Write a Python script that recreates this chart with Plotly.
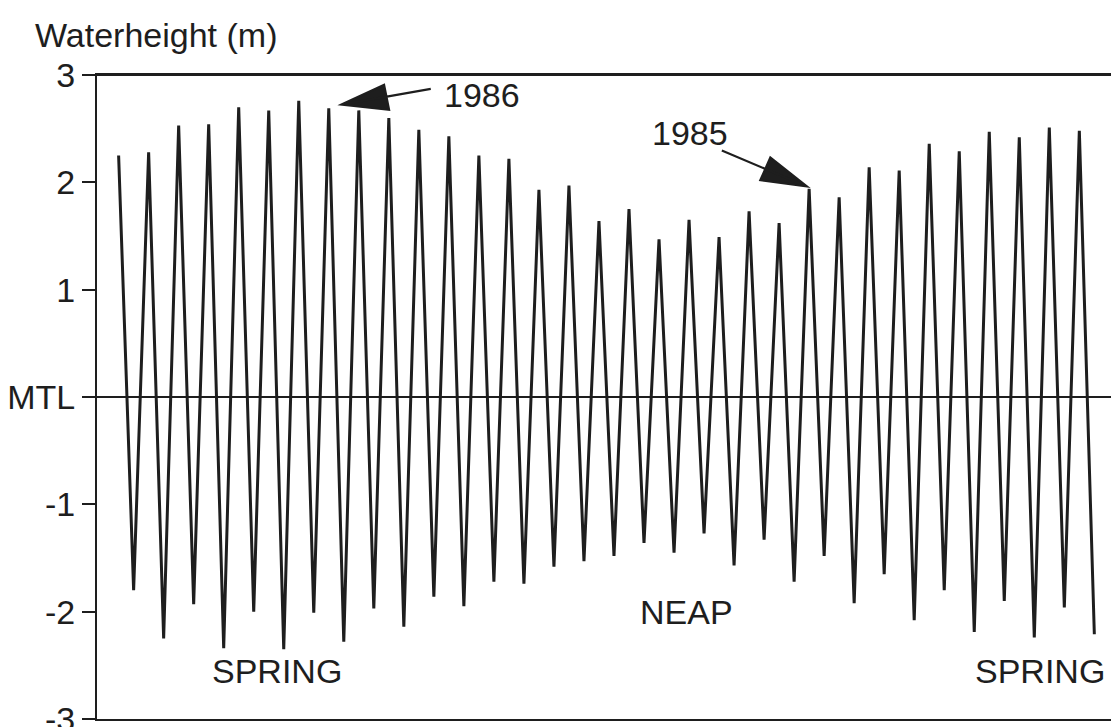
import plotly.graph_objects as go

# High-water and low-water heights (m relative to MTL)
high_water = [2.25, 2.28, 2.53, 2.54, 2.70, 2.67, 2.76, 2.69, 2.67, 2.60, 2.49,
              2.43, 2.25, 2.22, 1.93, 1.97, 1.64, 1.75, 1.47, 1.65, 1.49, 1.73,
              1.62, 1.94, 1.86, 2.14, 2.11, 2.36, 2.29, 2.47, 2.42, 2.51, 2.48]
low_water = [-1.80, -2.25, -1.93, -2.34, -2.00, -2.35, -2.01, -2.28, -1.97, -2.14, -1.86,
             -1.95, -1.72, -1.74, -1.58, -1.53, -1.48, -1.36, -1.45, -1.27, -1.57, -1.33,
             -1.72, -1.48, -1.92, -1.65, -2.08, -1.80, -2.19, -1.90, -2.24, -1.96, -2.21]

tick_vals = [-3, -2, -1, 0, 1, 2, 3]
tick_text = ["-3", "-2", "-1", "MTL", "1", "2", "3"]

# interleave into a tide curve: high, low, high, low ...
heights = []
for h, l in zip(high_water, low_water):
    heights += [h, l]
tide_step = list(range(len(heights)))  # successive half tidal cycles

FONT = "Liberation Sans, Arial, Helvetica, sans-serif"
INK = "#1e1e1e"
FS = 34

fig = go.Figure()
fig.add_trace(go.Scatter(x=tide_step, y=heights, mode="lines",
                         line=dict(color=INK, width=3), hoverinfo="skip",
                         showlegend=False))

fig.update_xaxes(range=[-1.44, 66.11], showline=True, linecolor=INK, linewidth=2,
                 mirror=True, showticklabels=False, ticks="", showgrid=False,
                 zeroline=False, automargin=False)
fig.update_yaxes(range=[-3, 3], tickvals=tick_vals, ticktext=tick_text,
                 showline=True, linecolor=INK, linewidth=2, mirror=False,
                 ticks="outside", ticklen=13, tickwidth=2, tickcolor=INK,
                 showgrid=False, zeroline=True, zerolinecolor=INK, zerolinewidth=2,
                 ticklabeloverflow="allow", automargin=False,
                 tickfont=dict(family=FONT, size=FS, color=INK))

def arrow(anchor_i, pts):
    tail, tip, c1, c2 = pts
    path = (f"M{tail[0]},{tail[1]} L{tip[0]},{tip[1]} "
            f"M{tip[0]},{tip[1]} L{c1[0]},{c1[1]} L{c2[0]},{c2[1]} Z")
    return dict(type="path", xref="x", yref="y", xsizemode="pixel", ysizemode="pixel",
                xanchor=tide_step[anchor_i], yanchor=heights[anchor_i], path=path,
                line=dict(color=INK, width=2.2), fillcolor=INK, layer="above")

shapes = [
    # top border line
    dict(type="line", xref="paper", yref="paper", x0=0, x1=1, y0=1, y1=1,
         line=dict(color=INK, width=2)),
    arrow(14, [(102, 19.4), (12.7, 3.7), (55.3, 23.5), (60.3, -1.4)]),
    arrow(46, [(-87.3, 38.3), (-2.3, 2.3), (-38.8, 31.2), (-48.8, 8.6)]),
]

annos = [
    dict(text="Waterheight (m)", xref="paper", yref="paper", x=-0.0631, y=1.062,
         xanchor="left", yanchor="middle", showarrow=False,
         font=dict(family=FONT, size=FS, color=INK)),
    dict(text="1986", x=24.2, y=2.81, showarrow=False,
         font=dict(family=FONT, size=FS, color=INK)),
    dict(text="1985", x=38.07, y=2.463, showarrow=False,
         font=dict(family=FONT, size=FS, color=INK)),
    dict(text="SPRING", x=10.57, y=-2.555, showarrow=False,
         font=dict(family=FONT, size=FS, color=INK)),
    dict(text="NEAP", x=37.86, y=-2.0, showarrow=False,
         font=dict(family=FONT, size=FS, color=INK)),
    dict(text="SPRING", x=65.85, y=-2.555, xanchor="right", showarrow=False,
         font=dict(family=FONT, size=FS, color=INK)),
]

fig.update_layout(width=1111, height=727, margin=dict(l=97, r=0, t=75, b=8),
                  paper_bgcolor="white", plot_bgcolor="white",
                  shapes=shapes, annotations=annos, showlegend=False)

fig.write_html("out.html")
